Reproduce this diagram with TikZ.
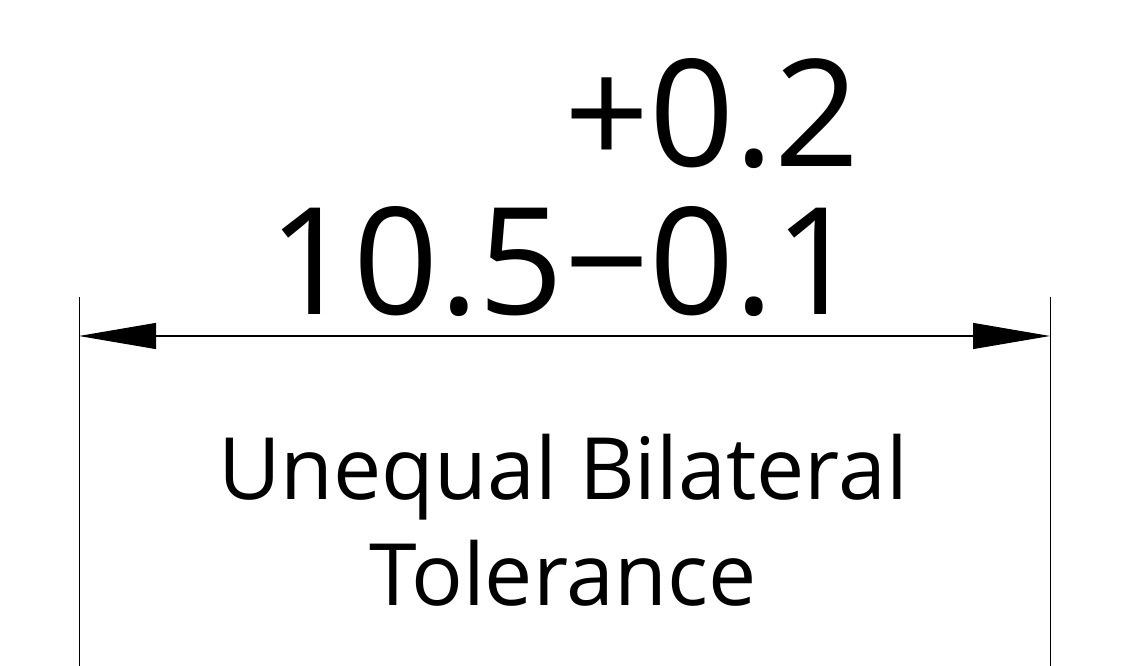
\documentclass[tikz,border=0pt]{standalone}
\usepackage{fontspec}
\setmainfont{Open Sans}
\usetikzlibrary{arrows.meta}
\tikzset{
  dimline/.style={line width=1.1pt, {Triangle[length=77pt,width=26pt]}-{Triangle[length=77pt,width=26pt]}},
  extline/.style={line width=0.9pt},
  bignum/.style={inner sep=0pt, font=\fontsize{149}{149}\selectfont},
  captext/.style={inner sep=0pt, font=\fontsize{86}{106}\selectfont},
}
\begin{document}
\begin{tikzpicture}[x=1pt,y=1pt]
    \useasboundingbox (0,0) rectangle (1121,666);
    % extension lines
    \coordinate (extLtop) at (79,369);
    \coordinate (extLbot) at (79,0);
    \coordinate (extRtop) at (1050,369);
    \coordinate (extRbot) at (1050,0);
    \draw[extline] (extLtop) -- (extLbot);
    \draw[extline] (extRtop) -- (extRbot);
    % dimension line
    \coordinate (dimL) at (79,330);
    \coordinate (dimR) at (1050,330);
    \draw[dimline] (dimL) -- (dimR);
    % value and tolerances
    \coordinate (uprow) at (0,499);
    \node[bignum, anchor=base east] (nominal) at (564,351) {10.5};
    \node[bignum, anchor=base west] (lowdev) at (nominal.base east) {−0.1};
    \node[bignum, anchor=base west] (updev) at (lowdev.west |- uprow) {+0.2};
    % caption
    \node[captext, anchor=base] (captop) at (563,166) {Unequal Bilateral};
    \node[captext, anchor=base] (capbot) at (563,60) {Tolerance};
\end{tikzpicture}
\end{document}
